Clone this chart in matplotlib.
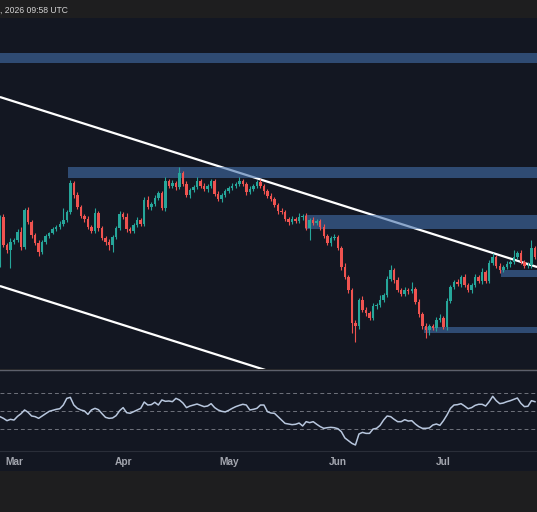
import matplotlib
matplotlib.use('Agg')
import matplotlib.pyplot as plt
from matplotlib.patches import Rectangle
import numpy as np
import pandas as pd

# daily candles (arbitrary price units)
start_date = '2026-02-25'
first_open = 134
closes = [183, 155, 150, 158, 160, 168, 153, 190, 178, 165, 157, 148, 158, 164, 167, 171, 173, 176, 180, 188,
          217, 205, 193, 184, 181, 173, 169, 187,
          172, 162, 158, 155, 163, 172, 186, 183, 171, 169, 175, 180, 176, 200, 193, 196, 202, 207, 192, 219,
          214, 217, 213, 227, 216, 205, 210, 213, 219, 214, 211, 214, 219,
          206, 201, 205, 209, 212, 214, 216, 219, 216, 208, 211, 214, 218, 214, 209, 204, 201, 195, 189, 188,
          181, 178, 181, 179, 183, 184, 172, 180, 177, 179, 173, 164, 157, 162, 163,
          152, 133, 123, 110, 77, 74, 100, 90, 87, 82, 94, 95, 100, 105, 121, 130, 120, 110, 106, 110,
          109, 111, 98, 86, 74, 70, 74, 72, 80, 82, 73, 99, 113, 118,
          116, 123, 115, 110, 115, 123, 119, 128, 119, 137, 143, 134, 130, 133, 136, 138, 143, 147, 138, 134,
          135, 152, 143]
upper_wick = [2, 3, 2, 4, 2, 3, 5, 2, 3, 2,
              2, 3, 2, 2, 1, 2, 2, 3, 12, 2,
              3, 2, 3, 2, 2, 3, 2, 5, 2, 2,
              2, 3, 2, 2, 3, 2, 4, 2, 2, 3,
              2, 3, 4, 2, 3, 2, 2, 4, 2, 3,
              2, 6, 2, 3, 2, 2, 4, 2, 3, 2,
              2, 2, 3, 2, 2, 2, 3, 2, 4, 2,
              2, 3, 2, 2, 3, 2, 2, 3, 2, 2,
              3, 2, 2, 3, 2, 4, 2, 3, 2, 3,
              2, 2, 3, 2, 2, 3, 2, 2, 4, 2,
              2, 3, 2, 4, 3, 2, 3, 2, 5, 2,
              3, 5, 2, 3, 2, 3, 2, 7, 2, 3,
              2, 3, 2, 2, 3, 4, 2, 3, 2, 2,
              3, 2, 3, 2, 2, 3, 2, 4, 2, 3,
              4, 2, 3, 2, 3, 2, 7, 2, 3, 2,
              3, 8, 2]
lower_wick = [1, 2, 3, 18, 2, 2, 3, 2, 2, 3,
              2, 4, 2, 2, 2, 1, 2, 2, 2, 2,
              2, 3, 2, 2, 3, 2, 2, 2, 3, 2,
              3, 5, 7, 2, 2, 2, 3, 2, 2, 2,
              2, 2, 2, 3, 2, 2, 2, 3, 2, 2,
              3, 2, 2, 2, 3, 2, 2, 2, 2, 3,
              2, 2, 2, 3, 2, 2, 2, 2, 2, 2,
              3, 2, 2, 2, 2, 3, 2, 2, 2, 3,
              2, 2, 3, 2, 2, 2, 3, 2, 12, 2,
              2, 3, 2, 2, 3, 2, 2, 3, 2, 3,
              10, 16, 3, 2, 3, 2, 2, 3, 2, 2,
              2, 2, 3, 2, 2, 2, 3, 2, 2, 3,
              3, 8, 5, 2, 3, 2, 2, 3, 2, 2,
              2, 3, 2, 2, 3, 2, 2, 3, 2, 2,
              2, 2, 3, 2, 2, 3, 2, 2, 2, 2,
              2, 3, 2]
rsi = [44.1, 42.2, 39.6, 41.1, 40.3, 44.4, 47.4, 51.5, 48.9, 44.8,
       44.1, 42.2, 44.8, 47.4, 50.0, 51.1, 52.2, 52.9, 57.0, 64.4,
       65.5, 57.0, 53.3, 51.5, 50.4, 46.6, 51.5, 53.3, 51.8, 47.4,
       43.3, 42.2, 42.6, 45.2, 50.7, 54.1, 48.5, 47.8, 49.6, 51.5,
       53.3, 60.3, 57.0, 57.4, 60.0, 57.0, 62.6, 61.1, 61.5, 60.7,
       64.4, 62.6, 59.2, 54.1, 55.9, 57.0, 58.1, 56.6, 55.2, 55.9,
       58.5, 54.1, 51.5, 50.0, 49.3, 51.1, 53.3, 55.2, 56.6, 57.8,
       57.0, 51.5, 52.2, 53.3, 57.0, 57.0, 49.6, 48.1, 47.8, 44.1,
       40.3, 36.6, 35.9, 35.2, 35.6, 37.0, 33.7, 38.5, 37.4, 38.5,
       35.6, 33.0, 31.1, 31.8, 32.2, 31.8, 30.7, 27.4, 20.4, 17.4,
       14.4, 12.6, 24.8, 26.6, 25.5, 25.5, 30.3, 31.1, 34.4, 40.3,
       44.8, 44.1, 41.1, 38.5, 38.5, 40.7, 39.2, 39.6, 35.9, 33.0,
       31.1, 31.1, 31.5, 34.8, 35.9, 34.4, 39.6, 45.9, 53.3, 57.0,
       57.4, 58.5, 55.9, 52.9, 54.1, 56.6, 57.8, 57.8, 55.9, 60.7,
       66.7, 61.8, 58.5, 59.2, 60.7, 61.8, 63.3, 64.8, 58.9, 55.2,
       55.6, 61.8, 60.7]
rsi_levels = [70, 50, 30]

# supply / demand zones: (first day index, low, high)
zone_start = [0, 19.3, 86.8, 142.3, 120.6]
zone_low = [337, 222, 171, 123, 67]
zone_high = [347, 233, 185, 130, 73]

# channel lines: (day index, price) at both ends
upper_trend_x = [0.0, 152.6]
upper_trend_y = [303, 133]
lower_trend_x = [0.0, 152.6]
lower_trend_y = [114, -56]

top_text = ', 2026 09:58 UTC'

BG = '#131722'
BAR = '#1e1e1f'
UP = '#26a69a'
DOWN = '#ef5350'

W, H = 537, 512
fig = plt.figure(figsize=(W / 100, H / 100), dpi=100)
fig.patch.set_facecolor(BAR)

ax = fig.add_axes([0, 1 - 369 / H, 1, 351 / H])
# RSI pane incl. the date strip below it (370..471 px)
rax = fig.add_axes([0, 1 - 471 / H, 1, 101 / H])

n = len(closes)
x = np.arange(n)
dates = pd.date_range(start_date, periods=n, freq='D')
c = np.array(closes, dtype=float)
o = np.concatenate([[first_open], c[:-1]])
hi = np.maximum(o, c) + np.array(upper_wick)
lo = np.minimum(o, c) - np.array(lower_wick)
up = c >= o
colors = np.where(up, UP, DOWN)
body = np.where(np.abs(c - o) < 1, 1, c - o)

# channel
ax.plot(upper_trend_x, upper_trend_y, color='white', lw=1.6, zorder=2, solid_capstyle='butt')
ax.plot(lower_trend_x, lower_trend_y, color='white', lw=1.6, zorder=2, solid_capstyle='butt')

# zones
for s, l, h in zip(zone_start, zone_low, zone_high):
    ax.add_patch(Rectangle((s, l), 200, h - l, facecolor='#426eaa', alpha=0.6,
                           edgecolor='none', zorder=3))

# candles
ax.vlines(x, lo, hi, colors=colors, lw=0.8, zorder=4)
ax.bar(x, body, bottom=o, width=0.7, color=colors, linewidth=0, zorder=5)

xl = (0.02, 152.58)
ax.set_xlim(*xl)
ax.set_ylim(31, 382)
ax.set_facecolor(BG)
ax.set_xticks([])
ax.set_yticks([])
for sp in ax.spines.values():
    sp.set_visible(False)

# RSI pane
rax.set_facecolor(BG)
rax.plot(x, rsi, color='#b8c7de', lw=1.1, zorder=3)
for lv in rsi_levels:
    rax.axhline(lv, color='#6f727c', lw=0.7, ls=(0, (4, 3)), zorder=2)
rax.axhline(5.9, color='#2a2e39', lw=0.8, zorder=2)
rax.set_xlim(*xl)
rax.set_ylim(-16.3, 95.9)
rax.set_xticks([])
rax.set_yticks([])
for k, sp in rax.spines.items():
    sp.set_visible(False)
rax.spines['top'].set_visible(True)
rax.spines['top'].set_color('#5d606b')
rax.spines['top'].set_linewidth(1.0)

# month labels
for i, d in enumerate(dates):
    if d.day == 1:
        rax.text(i, -6.3, d.strftime('%b'), ha='center', va='center', fontsize=7.3,
                 fontweight='bold', family='Liberation Sans', color='#a3a6af')

fig.text(0.0, 1 - 10.5 / H, top_text, ha='left', va='center', fontsize=6.2,
         family='Liberation Sans', color='#d2d2d2')

fig.savefig('out.png', dpi=100, facecolor=fig.get_facecolor())
